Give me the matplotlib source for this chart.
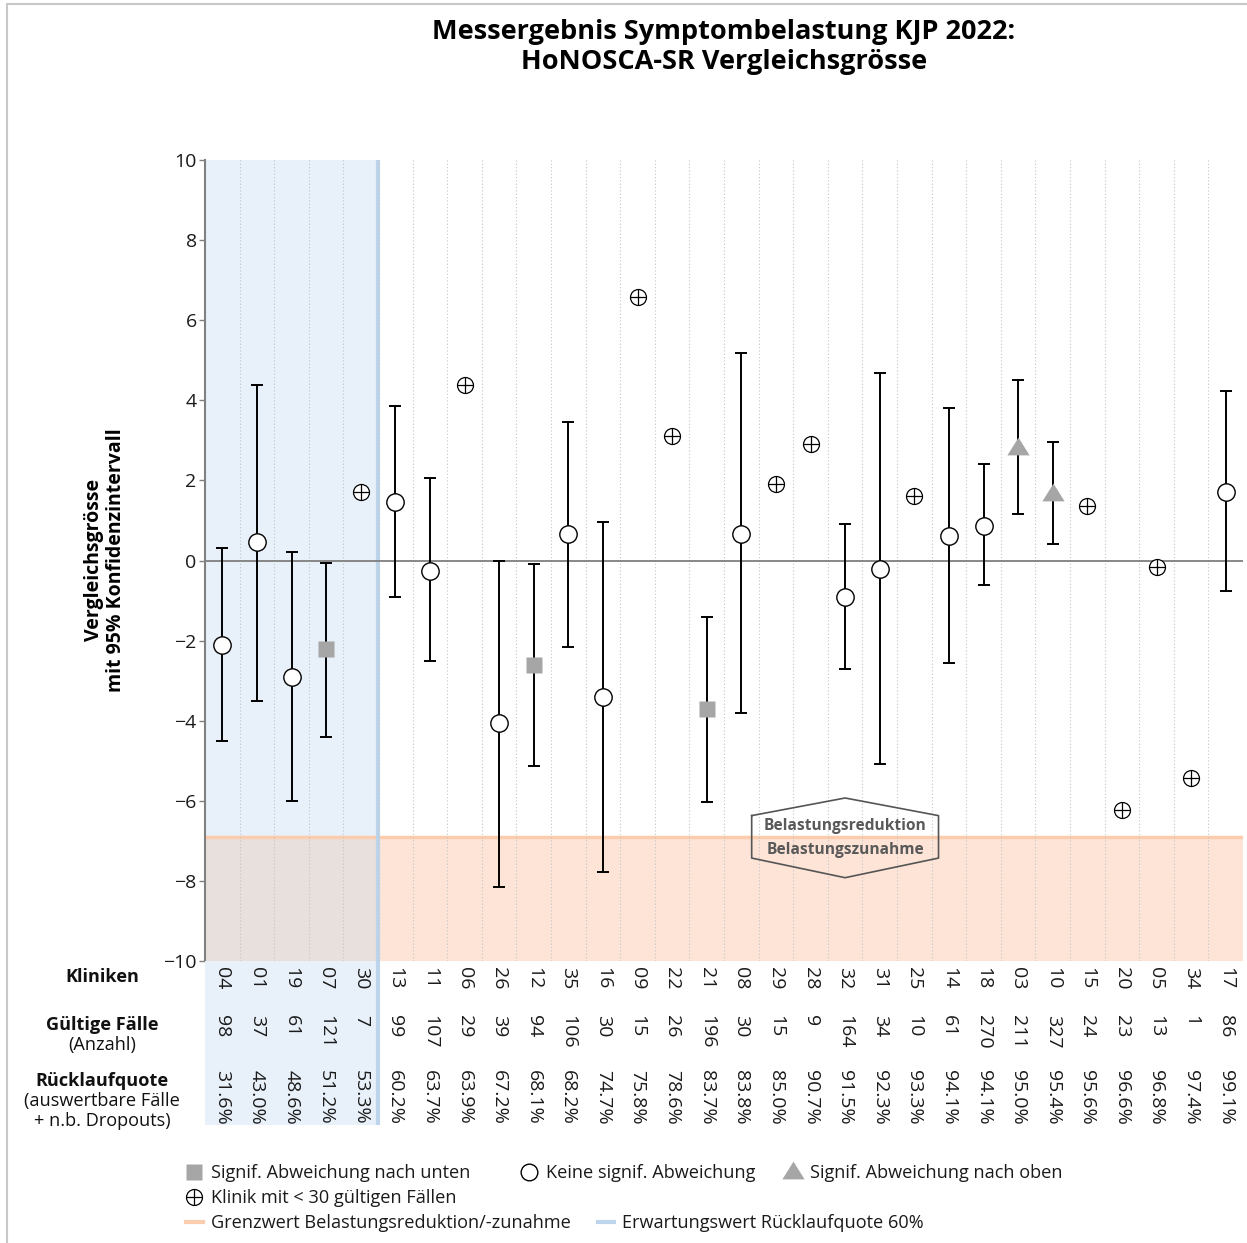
import numpy as np
import matplotlib
matplotlib.use("Agg")
import matplotlib.pyplot as plt
from matplotlib.lines import Line2D
from matplotlib.path import Path

plt.rcParams["font.family"] = ["Open Sans", "DejaVu Sans"]

# ---- Daten ----
kliniken = ["04", "01", "19", "07", "30", "13", "11", "06", "26", "12", "35", "16", "09", "22", "21",
            "08", "29", "28", "32", "31", "25", "14", "18", "03", "10", "15", "20", "05", "34", "17"]
faelle = [98, 37, 61, 121, 7, 99, 107, 29, 39, 94, 106, 30, 15, 26, 196,
          30, 15, 9, 164, 34, 10, 61, 270, 211, 327, 24, 23, 13, 1, 86]
quote = [31.6, 43.0, 48.6, 51.2, 53.3, 60.2, 63.7, 63.9, 67.2, 68.1, 68.2, 74.7, 75.8, 78.6, 83.7,
         83.8, 85.0, 90.7, 91.5, 92.3, 93.3, 94.1, 94.1, 95.0, 95.4, 95.6, 96.6, 96.8, 97.4, 99.1]
wert = [-2.1, 0.45, -2.9, -2.22, 1.72, 1.47, -0.25, 4.37, -4.05, -2.6, 0.67, -3.42, 6.59, 3.12, -3.72,
        0.67, 1.9, 2.9, -0.92, -0.2, 1.6, 0.62, 0.87, 2.87, 1.72, 1.35, -6.24, -0.17, -5.44, 1.72]
nan = np.nan
ki_unten = [-4.5, -3.5, -6.0, -4.4, nan, -0.9, -2.52, nan, -8.14, -5.14, -2.15, -7.79, nan, nan, -6.04,
            -3.82, nan, nan, -2.72, -5.07, nan, -2.57, -0.6, 1.15, 0.4, nan, nan, nan, nan, -0.77]
ki_oben = [0.3, 4.37, 0.2, -0.07, nan, 3.85, 2.05, nan, 0.0, -0.08, 3.47, 0.95, nan, nan, -1.4,
           5.17, nan, nan, 0.92, 4.67, nan, 3.82, 2.4, 4.5, 2.95, nan, nan, nan, nan, 4.22]
# o = keine signif. Abweichung, s = nach unten, ^ = nach oben, x = < 30 Faelle
status = ["o", "o", "o", "s", "x", "o", "o", "x", "o", "s", "o", "o", "x", "x", "s",
          "o", "x", "x", "o", "o", "x", "o", "o", "^", "^", "x", "x", "x", "x", "o"]
grenzwert = -6.9
soll_quote = 60.0

W, H = 1247, 1243
fig = plt.figure(figsize=(W / 100, H / 100), dpi=100)

def px_rect(x0, y0, x1, y1):
    return [x0 / W, 1 - y1 / H, (x1 - x0) / W, (y1 - y0) / H]

ax = fig.add_axes(px_rect(205, 160, 1243, 961))
ax_tab = fig.add_axes(px_rect(205, 961, 1243, 1125))

n = len(kliniken)
x = np.arange(n)
wert = np.array(wert)
lo = np.array(ki_unten)
hi = np.array(ki_oben)
n_unter = int(np.sum(np.array(quote) < soll_quote))
blau_grenze = n_unter - 0.5

BLUE_FILL = "#e8f0f9"
BLUE_LINE = "#bcd5ec"
ORANGE_FILL = "#fde4d7"
ORANGE_LINE = "#fbcdae"
OVERLAP = "#e8e0dd"
GREY_MARK = "#a6a6a6"

# Hintergruende
ax.axvspan(-0.5, blau_grenze, color=BLUE_FILL, lw=0, zorder=0)
ax.fill_between([blau_grenze, n - 0.5], -10, grenzwert, color=ORANGE_FILL, lw=0, zorder=0)
ax.fill_between([-0.5, blau_grenze], -10, grenzwert, color=OVERLAP, lw=0, zorder=0)
ax.axhline(grenzwert, color=ORANGE_LINE, lw=2.5, zorder=1)
ax.axvline(blau_grenze, color=BLUE_LINE, lw=3, zorder=1)
for b in np.arange(0.5, n - 1, 1.0):
    ax.axvline(b, color="#c4c4c4", lw=0.8, ls=(0, (1, 2)), zorder=1)
ax.axhline(0, color="#7f7f7f", lw=1.3, zorder=2)

# Konfidenzintervalle
mask = ~np.isnan(lo)
ax.errorbar(x[mask], wert[mask], yerr=[wert[mask] - lo[mask], hi[mask] - wert[mask]],
            fmt="none", ecolor="black", elinewidth=1.4, capsize=4, capthick=1.4, zorder=3)

tri = Path([(-1, -0.8), (1, -0.8), (0, 0.8), (-1, -0.8)],
           [Path.MOVETO, Path.LINETO, Path.LINETO, Path.CLOSEPOLY])
st = np.array(status)
m = st == "o"
ax.plot(x[m], wert[m], "o", ms=12.5, mfc="white", mec="black", mew=1.0, ls="none", zorder=4)
m = st == "s"
ax.plot(x[m], wert[m], "s", ms=11.5, mfc=GREY_MARK, mec="none", ls="none", zorder=4)
m = st == "^"
ax.plot(x[m], wert[m], marker=tri, ms=16, mfc=GREY_MARK, mec="none", ls="none", zorder=4)
m = st == "x"
ax.plot(x[m], wert[m], "o", ms=11.5, mfc="white", mec="black", mew=0.9, ls="none", zorder=4)
ax.plot(x[m], wert[m], "+", ms=11.5, mec="black", mew=0.9, ls="none", zorder=5)

# Hexagon-Beschriftung
hx = [15.3, 18, 20.7, 20.7, 18, 15.3, 15.3]
hy = [-6.37, -5.93, -6.37, -7.43, -7.92, -7.43, -6.37]
ax.plot(hx, hy, color="#555555", lw=1.2, zorder=6)
ax.text(18, -6.63, "Belastungsreduktion", ha="center", va="center", fontsize=11.2,
        fontweight="bold", color="#595959", zorder=7)
ax.text(18, -7.24, "Belastungszunahme", ha="center", va="center", fontsize=11.2,
        fontweight="bold", color="#595959", zorder=7)

ax.set_xlim(-0.5, n - 0.5)
ax.set_ylim(-10, 10)
ax.set_yticks(np.arange(-10, 11, 2))
ax.set_xticks([])
for s in ["top", "right", "bottom"]:
    ax.spines[s].set_visible(False)
ax.spines["left"].set_color("#808080")
ax.spines["left"].set_linewidth(1.5)
ax.tick_params(axis="y", length=4, width=1, color="#808080", labelsize=14, labelcolor="#1a1a1a", pad=2)

# Tabelle
ax_tab.set_xlim(-0.5, n - 0.5)
ax_tab.set_ylim(0, 1)
ax_tab.axis("off")
ax_tab.axvspan(-0.5, blau_grenze, color=BLUE_FILL, lw=0, zorder=0)
ax_tab.axvline(blau_grenze, color=BLUE_LINE, lw=3, zorder=1)
for i in range(n):
    kw = dict(rotation=270, ha="center", va="top", fontsize=14, color="#1a1a1a")
    ax_tab.text(x[i], 0.963, kliniken[i], **kw)
    ax_tab.text(x[i], 0.671, str(faelle[i]), **kw)
    ax_tab.text(x[i], 0.338, f"{quote[i]:.1f}%", **kw)

def ftext(px, py, s, **kw):
    fig.text(px / W, 1 - py / H, s, **kw)

ftext(105, 560, "Vergleichsgrösse\nmit 95% Konfidenzintervall", rotation=90, ha="center", va="center",
      fontsize=14, fontweight="bold", color="black", linespacing=1.15)

lab = dict(ha="center", va="center", fontsize=13.1, color="#111111")
ftext(102, 977, "Kliniken", fontweight="bold", **lab)
ftext(102, 1025, "Gültige Fälle", fontweight="bold", **lab)
ftext(102, 1045, "(Anzahl)", **lab)
ftext(102, 1081, "Rücklaufquote", fontweight="bold", **lab)
ftext(102, 1101, "(auswertbare Fälle", **lab)
ftext(102, 1121, "+ n.b. Dropouts)", **lab)

# Titel
ftext(724, 32, "Messergebnis Symptombelastung KJP 2022:", ha="center", va="center",
      fontsize=19.5, fontweight="bold", color="black")
ftext(724, 62, "HoNOSCA-SR Vergleichsgrösse", ha="center", va="center",
      fontsize=19.5, fontweight="bold", color="black")

# Legende
lg = fig.add_axes([0, 0, 1, 1], zorder=-1)
lg.set_xlim(0, W)
lg.set_ylim(H, 0)
lg.axis("off")
lt = dict(ha="left", va="center", fontsize=13.1, color="#1a1a1a")
lg.plot([194], [1172], "s", ms=11.5, mfc=GREY_MARK, mec="none")
lg.text(211, 1173, "Signif. Abweichung nach unten", **lt)
lg.plot([529], [1172], "o", ms=12, mfc="white", mec="black", mew=1.0)
lg.text(546, 1173, "Keine signif. Abweichung", **lt)
lg.plot([793], [1170], marker=tri, ms=16, mfc=GREY_MARK, mec="none")
lg.text(810, 1173, "Signif. Abweichung nach oben", **lt)
lg.plot([194], [1197], "o", ms=11.5, mfc="white", mec="black", mew=0.9)
lg.plot([194], [1197], "+", ms=11.5, mec="black", mew=0.9)
lg.text(211, 1198, "Klinik mit < 30 gültigen Fällen", **lt)
lg.plot([186, 203], [1222, 1222], color=ORANGE_LINE, lw=3)
lg.text(211, 1223, "Grenzwert Belastungsreduktion/-zunahme", **lt)
lg.plot([598, 614], [1222, 1222], color=BLUE_LINE, lw=3)
lg.text(622, 1223, "Erwartungswert Rücklaufquote 60%", **lt)

# Rahmen links/oben
fig.add_artist(Line2D([7 / W, 7 / W], [0, 1 - 4 / H], color="#c8c8c8", lw=1.5))
fig.add_artist(Line2D([7 / W, 1], [1 - 4 / H, 1 - 4 / H], color="#c8c8c8", lw=1.5))

fig.savefig("out.png", dpi=100)
